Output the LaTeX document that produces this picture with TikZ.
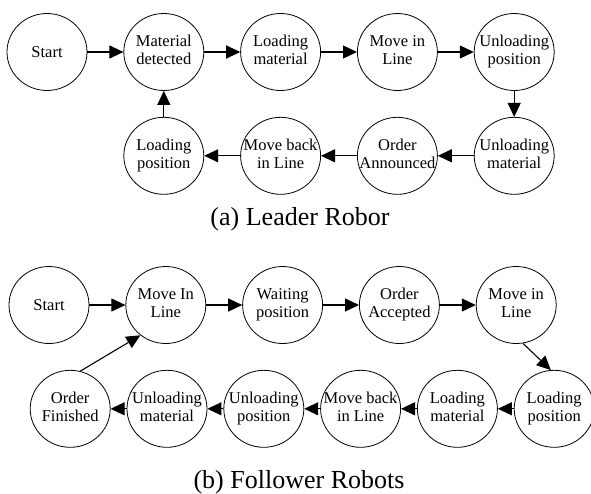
\documentclass[tikz,border=0pt]{standalone}
\usepackage{fontspec}
\setmainfont{Liberation Serif}
\usetikzlibrary{arrows.meta, positioning, shapes.geometric}
\newcommand{\stext}[1]{\makebox[0pt]{\begin{tabular}{@{}c@{}}#1\end{tabular}}}

\begin{document}
\begin{tikzpicture}[
    x=1pt, y=1pt,
    node distance=26pt and 36pt, % gaps between the states
    state/.style={draw, ellipse, minimum width=80pt, minimum height=77pt, inner sep=0pt, line width=0.8pt, font=\fontsize{16.5}{17.5}\selectfont},
    caption/.style={font=\fontsize{26}{28}\selectfont, anchor=base},
    ->, % arrow style
    >={Triangle[length=14pt, width=13pt]}, % arrowhead style
    line width=1.1pt
  ]
  \useasboundingbox (0,0) rectangle (591,-493);

  % (a) leader robot
  \node (A1) [state] at (47,-52) {Start};
  \node (A2) [state, right=of A1] {\stext{Material\\detected}};
  \node (A3) [state, right=of A2] {\stext{Loading\\material}};
  \node (A4) [state, right=of A3] {\stext{Move in\\Line}};
  \node (A5) [state, right=of A4] {\stext{Unloading\\position}};
  \node (A6) [state, below=of A5] {\stext{Unloading\\material}};
  \node (A7) [state, left=of A6] {\stext{Order\\Announced}};
  \node (A8) [state, left=of A7] {\stext{Move back\\in Line}};
  \node (A9) [state, left=of A8] {\stext{Loading\\position}};
  \node (capA) [caption] at (300,-225) {(a) Leader Robor};

  % (b) follower robots
  \node (B1) [state] at (49,-305) {Start};
  \node (B2) [state, right=of B1] {\stext{Move In\\Line}};
  \node (B3) [state, right=of B2] {\stext{Waiting\\position}};
  \node (B4) [state, right=of B3] {\stext{Order\\Accepted}};
  \node (B5) [state, right=of B4] {\stext{Move in\\Line}};
  \node (B6) [state, below=of B5, xshift=38pt] {\stext{Loading\\position}};
  \node (B7) [state, left=16pt of B6] {\stext{Loading\\material}};
  \node (B8) [state, left=16pt of B7] {\stext{Move back\\in Line}};
  \node (B9) [state, left=16pt of B8] {\stext{Unloading\\position}};
  \node (B10) [state, left=16pt of B9] {\stext{Unloading\\material}};
  \node (B11) [state, left=16pt of B10] {\stext{Order\\Finished}};
  \node (capB) [caption] at (299,-488) {(b) Follower Robots};

  % Arrows
  \draw (A1) -- (A2);
  \draw (A2) -- (A3);
  \draw (A3) -- (A4);
  \draw (A4) -- (A5);
  \draw (A5) -- (A6);
  \draw (A6) -- (A7);
  \draw (A7) -- (A8);
  \draw (A8) -- (A9);
  \draw (A9) -- (A2);

  \draw (B1) -- (B2);
  \draw (B2) -- (B3);
  \draw (B3) -- (B4);
  \draw (B4) -- (B5);
  \draw (B5.280) -- (B6.95);
  \draw (B6) -- (B7);
  \draw (B7) -- (B8);
  \draw (B8) -- (B9);
  \draw (B9) -- (B10);
  \draw (B10) -- (B11);
  \draw (B11.75) -- (B2.230);

\end{tikzpicture}
\end{document}
